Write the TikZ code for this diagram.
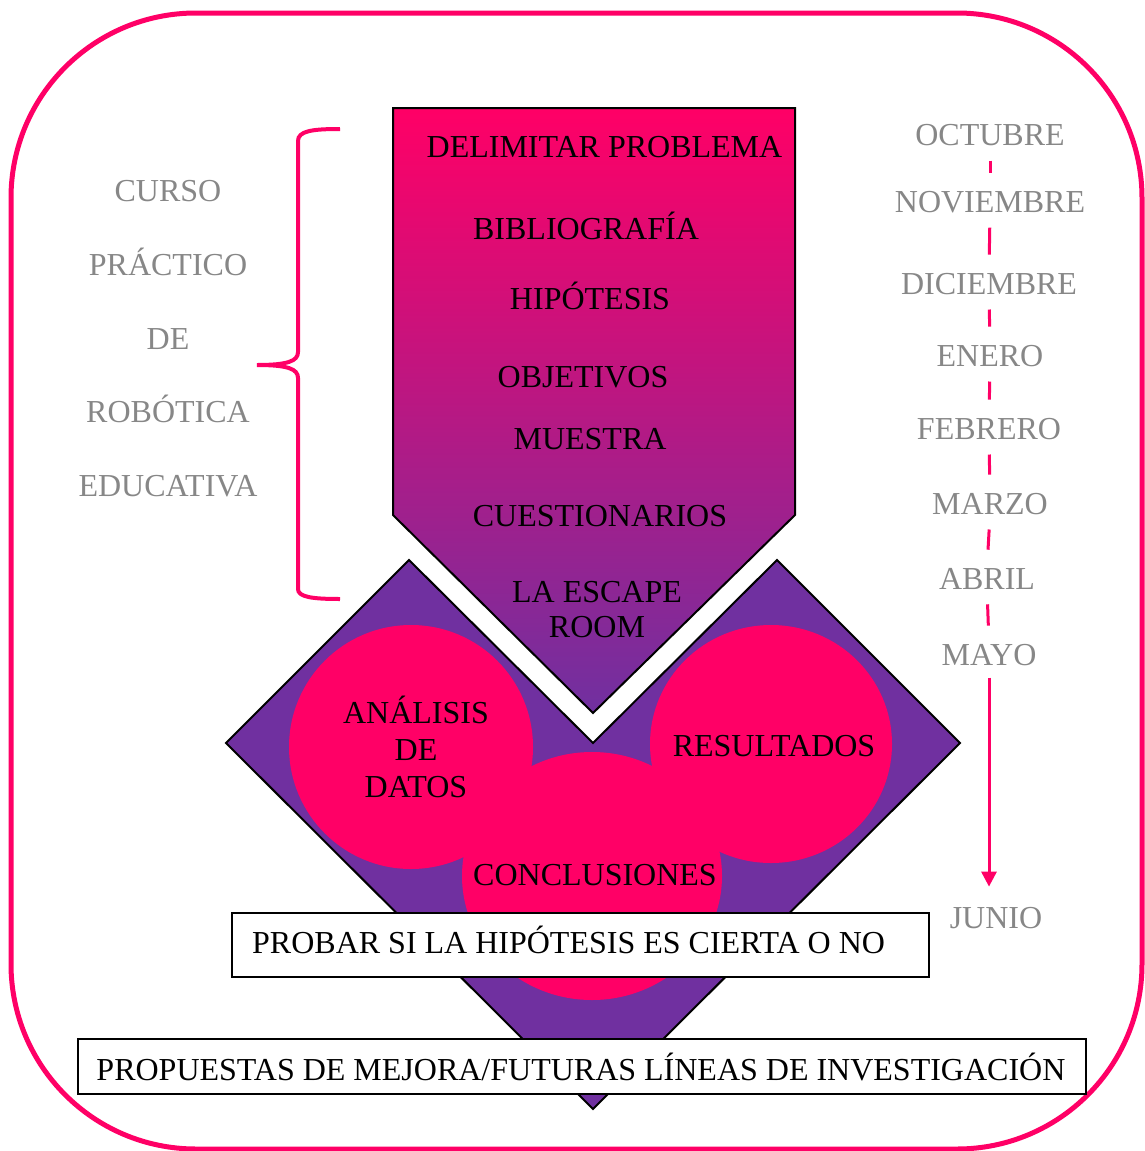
\documentclass[tikz,border=0pt]{standalone}
\usepackage{fontspec}
\setmainfont{Liberation Serif}
\usetikzlibrary{arrows.meta,shapes.geometric}
\definecolor{rosa}{HTML}{FF0066}
\definecolor{morado}{HTML}{7030A0}
\definecolor{gris}{HTML}{878787}
\begin{document}
\begin{tikzpicture}[x=1pt,y=-1pt,
  txt/.style={font=\fontsize{32}{36}\selectfont, inner sep=0pt, anchor=base},
  blk/.style={txt, text=black},
  gry/.style={txt, text=gris},
  frame/.style={draw=rosa, line width=5pt},
  bracestyle/.style={draw=rosa, line width=4pt},
  tline/.style={draw=rosa, line width=3pt},
  blob/.style={ellipse, fill=rosa, draw=none, inner sep=0pt},
  wbox/.style={draw=black, line width=2pt, fill=white}]
\useasboundingbox (0,0) rectangle (1145,1151);
% outer frame
\draw[frame, rounded corners=185pt] (11,13) rectangle (1142,1149);
% brace
\draw[bracestyle] (340,129) .. controls (312,129) and (298,131) .. (298,141)
  -- (298,352) .. controls (298,361) and (288,365) .. (257,365)
  .. controls (288,365) and (298,369) .. (298,378)
  -- (298,589) .. controls (298,597) and (312,599) .. (340,599);
% big purple shape with notch
\path[fill=morado, draw=black, line width=2pt, line join=miter]
  (226,743) -- (409,560) -- (593,743) -- (777,560) -- (960,743) -- (593,1109) -- cycle;
% pink blobs
\node[blob, minimum width=244pt, minimum height=244pt] (bl) at (411,747) {};
\node[blob, minimum width=242pt, minimum height=238pt] (br) at (771,744) {};
\node[blob, minimum width=260pt, minimum height=248pt] (bb) at (592,876) {};
% top pentagon arrow
\path[draw=black, line width=2pt, top color=rosa, bottom color=morado]
  (393,108) -- (795,108) -- (795,515) -- (593,713) -- (393,515) -- cycle;
% pentagon texts
\node[blk] (t1) at (604.5,157.5) {DELIMITAR PROBLEMA};
\node[blk] (t2) at (586,239.5) {BIBLIOGRAFÍA};
\node[blk] (t3) at (590,309.5) {HIPÓTESIS};
\node[blk] (t4) at (583,387.5) {OBJETIVOS};
\node[blk] (t5) at (590,449.5) {MUESTRA};
\node[blk] (t6) at (600,526.5) {CUESTIONARIOS};
\node[blk] (t7a) at (597,602) {LA ESCAPE};
\node[blk] (t7b) at (597,637) {ROOM};
% blob texts
\node[blk] (a1) at (416,723) {ANÁLISIS};
\node[blk] (a2) at (416,760) {DE};
\node[blk] (a3) at (416,797) {DATOS};
\node[blk] (res) at (774,756) {RESULTADOS};
\node[blk] (con) at (595,885.5) {CONCLUSIONES};
% boxes
\path[wbox] (232,913) rectangle (929,977);
\node[blk, anchor=base west] (prob) at (252,953) {PROBAR SI LA HIPÓTESIS ES CIERTA O NO};
\path[wbox] (78,1039) rectangle (1086,1094);
\node[blk] (prop) at (581,1080) {PROPUESTAS DE MEJORA/FUTURAS LÍNEAS DE INVESTIGACIÓN};
% left labels
\node[gry] (l1) at (168,201) {CURSO};
\node[gry] (l2) at (168,275) {PRÁCTICO};
\node[gry] (l3) at (168,349) {DE};
\node[gry] (l4) at (168,422) {ROBÓTICA};
\node[gry] (l5) at (168,496) {EDUCATIVA};
% months
\node[gry] (m1) at (990,145) {OCTUBRE};
\node[gry] (m2) at (990,212) {NOVIEMBRE};
\node[gry] (m3) at (989,294) {DICIEMBRE};
\node[gry] (m4) at (990,366) {ENERO};
\node[gry] (m5) at (989,439) {FEBRERO};
\node[gry] (m6) at (990,514) {MARZO};
\node[gry] (m7) at (987,589) {ABRIL};
\node[gry] (m8) at (989,665) {MAYO};
\node[gry] (m9) at (996,928) {JUNIO};
\foreach \a/\b in {m1/m2,m2/m3,m3/m4,m4/m5,m5/m6,m6/m7,m7/m8}
  \draw[tline, shorten <=15pt, shorten >=18pt] (\a.south) -- (\b.north);
\draw[tline, shorten <=12pt, shorten >=20pt, -{Triangle[width=15pt,length=15pt]}] (m8.south) -- (m8.south |- m9.north);
\end{tikzpicture}
\end{document}
